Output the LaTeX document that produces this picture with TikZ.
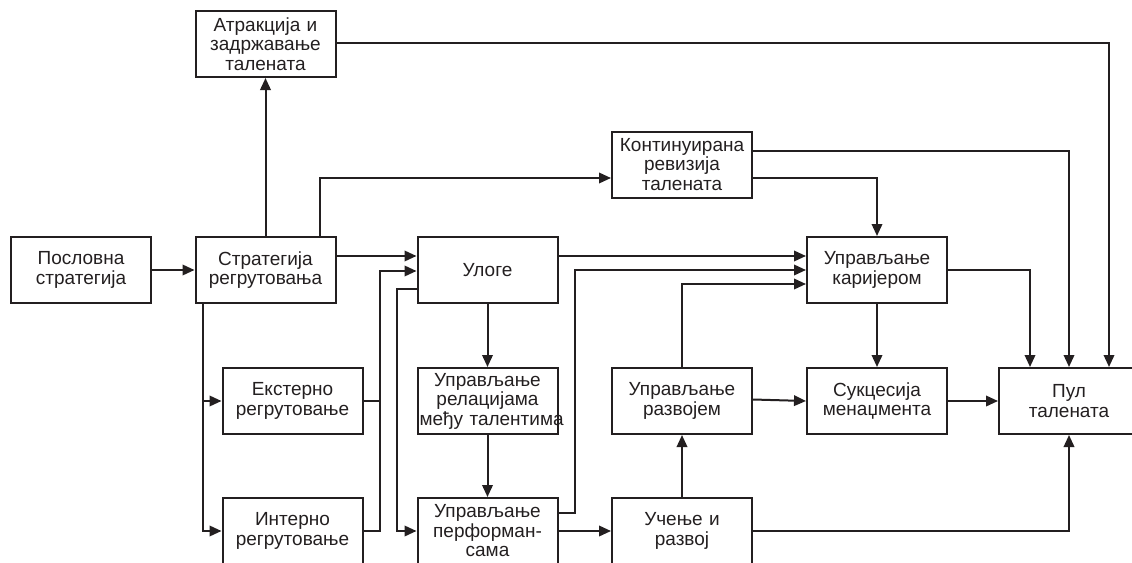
\documentclass[tikz,border=0pt]{standalone}
\usepackage{fontspec}
\setmainfont{Liberation Sans}
\usetikzlibrary{arrows.meta}
\definecolor{ink}{HTML}{231F20}
\begin{document}
\begin{tikzpicture}[x=1pt,y=-1pt,
  box/.style={draw=ink, line width=2pt, minimum width=140pt, minimum height=66pt,
    inner sep=2pt, text width=136pt, align=center,
    font=\fontsize{19}{19.5}\selectfont, text=ink},
  link/.style={draw=ink, line width=2pt},
  arr/.style={link, -{Triangle[length=12pt,width=10.5pt]}},
]
\useasboundingbox (0,0) rectangle (1132,562);
\clip (0,0) rectangle (1132,562);

% boxes
\node[box] (atr) at (265.5,44)  {Атракција и\\задржавање\\талената};
\node[box] (pos) at (81,270)    {Пословна\\стратегија};
\node[box] (str) at (265.5,270) {Стратегија\\регрутовања};
\node[box] (kon) at (682,164.5) {Континуирана\\ревизија\\талената};
\node[box] (ulo) at (487.5,270) {Улоге};
\node[box] (kar) at (877,270)   {Управљање\\каријером};
\node[box] (ext) at (292.5,401) {Екстерно\\регрутовање};
\node[box] (int) at (292.5,531) {Интерно\\регрутовање};
\node[box] (rel) at (487.5,401) {Управљање\\релацијама\\\mbox{међу талентима}};
\node[box] (per) at (487.5,531) {Управљање\\перформан-\\сама};
\node[box] (raz) at (682,401)   {Управљање\\развојем};
\node[box] (uce) at (682,531)   {Учење и\\развој};
\node[box] (suk) at (877,401)   {Сукцесија\\менаџмента};
\node[box] (pul) at (1069,401)  {Пул\\талената};

% junction points of the collector lines
\coordinate (busA) at (380,271);
\coordinate (busC) at (575,270);

% connectors
\draw[arr] (pos.east) -- (str.west);
\draw[arr] (str.north) -- (atr.south);
\draw[arr] ([yshift=1pt]atr.east) -| ([xshift=40pt]pul.north);
\draw[arr] ([xshift=54.5pt]str.north) |- ([yshift=-13.5pt]kon.west);
\draw[arr] ([yshift=14pt]str.east) -- ([yshift=14pt]ulo.west);
\draw[arr] ([xshift=-62.5pt]str.south) |- (ext.west);
\draw[arr] ([xshift=-62.5pt]str.south) |- (int.west);
\draw[link] (ext.east) -- (ext.east -| busA);
\draw[arr] (int.east) -| (busA) -- ([yshift=-1pt]ulo.west);
\draw[arr] ([yshift=-19pt]ulo.west) -| ([xshift=-19.5pt]per.west) -- (per.west);
\draw[arr] (ulo.south) -- (rel.north);
\draw[arr] (rel.south) -- (per.north);
\draw[arr] ([yshift=14pt]ulo.east) -- ([yshift=14pt]kar.west);
\draw[arr] ([yshift=18pt]per.east) -| (busC) -- (kar.west);
\draw[arr] (per.east) -- (uce.west);
\draw[arr] (uce.north) -- (raz.south);
\draw[arr] (raz.north) |- ([yshift=-14pt]kar.west);
\draw[arr] ([yshift=1.5pt]raz.east) -- (suk.west);
\draw[arr] (suk.east) -- (pul.west);
\draw[arr] ([yshift=13.5pt]kon.east) -| (pul.north);
\draw[arr] ([yshift=-13.5pt]kon.east) -| (kar.north);
\draw[arr] (kar.east) -| ([xshift=-39pt]pul.north);
\draw[arr] (kar.south) -- (suk.north);
\draw[arr] (uce.east) -| (pul.south);
\end{tikzpicture}
\end{document}
